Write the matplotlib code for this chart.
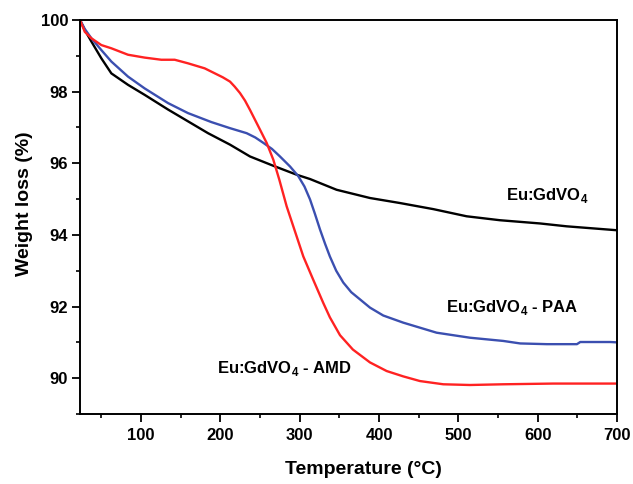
import matplotlib
matplotlib.use("Agg")
import matplotlib.pyplot as plt
from matplotlib.ticker import MultipleLocator

plt.rcParams['font.family'] = ['Liberation Sans', 'DejaVu Sans']
plt.rcParams['font.weight'] = 'bold'
plt.rcParams['mathtext.fontset'] = 'custom'
plt.rcParams['mathtext.rm'] = 'Liberation Sans:bold'
plt.rcParams['mathtext.bf'] = 'Liberation Sans:bold'

# TGA curves: temperature (°C) and remaining weight (%)
t_bare = [23, 29, 37.3, 49.9, 62.5, 83.5, 104.5, 134, 159.2, 184.4, 212.1, 237.3,
          266.7, 296.2, 313, 346.5, 388.6, 426.4, 468.4, 510.4, 552.4, 602.9,
          636.5, 700]
w_bare = [100, 99.72, 99.40, 98.93, 98.51, 98.19, 97.91, 97.5, 97.17, 96.84,
          96.52, 96.19, 95.93, 95.68, 95.56, 95.26, 95.03, 94.89, 94.72, 94.52,
          94.41, 94.32, 94.24, 94.13]

t_paa = [23, 29, 37.3, 49.9, 62.5, 83.5, 104.5, 134, 159.2, 188.6, 212.1, 233.1,
         244, 254.1, 265, 275.1, 287.8, 298.2, 306, 313, 319, 325.6, 332, 338,
         346, 354.9, 365, 376, 388.6, 405.3, 430.6, 472.6, 514.6, 556.6, 578,
         611.6, 649.5, 653.7, 691.5, 700]
w_paa = [100, 99.75, 99.49, 99.16, 98.84, 98.42, 98.09, 97.68, 97.4, 97.15,
         96.98, 96.84, 96.72, 96.57, 96.4, 96.19, 95.91, 95.64, 95.35, 94.99,
         94.6, 94.15, 93.75, 93.4, 93.0, 92.67, 92.4, 92.2, 91.97, 91.75, 91.55,
         91.27, 91.13, 91.04, 90.97, 90.95, 90.95, 91.01, 91.01, 91.0]

t_amd = [23, 29, 37.3, 49.9, 62.5, 83.5, 104.5, 125.5, 142.4, 159.2, 180.2,
         194.8, 203, 212.1, 218, 224.7, 231, 237.3, 249.9, 258.3, 266.7, 274.3,
         283.5, 294, 304.5, 317, 329.7, 338, 350.8, 367, 388.6, 409.6, 430.6,
         451.6, 481, 514.6, 556.6, 619.6, 700]
w_amd = [100, 99.67, 99.49, 99.3, 99.21, 99.03, 98.95, 98.89, 98.89, 98.79,
         98.65, 98.49, 98.4, 98.28, 98.14, 97.96, 97.75, 97.49, 96.94, 96.57,
         96.1, 95.54, 94.8, 94.1, 93.4, 92.75, 92.1, 91.7, 91.2, 90.8, 90.44,
         90.2, 90.05, 89.92, 89.83, 89.81, 89.83, 89.85, 89.85]

fig = plt.figure(figsize=(6.33, 4.84), dpi=100)
ax = fig.add_axes([0.1264, 0.1446, 0.9747 - 0.1264, 0.9587 - 0.1446])

ax.plot(t_bare, w_bare, color='black', lw=1.7)
ax.plot(t_paa, w_paa, color='#3b4fb0', lw=1.7)
ax.plot(t_amd, w_amd, color='#ff2222', lw=1.7)

ax.set_xlim(23, 700)
ax.set_ylim(89.0, 100)
ax.xaxis.set_major_locator(MultipleLocator(100))
ax.xaxis.set_minor_locator(MultipleLocator(50))
ax.yaxis.set_major_locator(MultipleLocator(2))
ax.yaxis.set_minor_locator(MultipleLocator(1))
ax.tick_params(which='major', direction='out', length=6, width=1.3,
               labelsize=12, top=False, right=False)
ax.tick_params(which='minor', direction='out', length=3, width=1.2,
               top=False, right=False)
ax.tick_params(axis='x', which='major', pad=4)
ax.tick_params(axis='y', which='major', pad=2.5)
for s in ax.spines.values():
    s.set_linewidth(1.4)
for lab in ax.get_xticklabels() + ax.get_yticklabels():
    lab.set_fontweight('bold')

ax.set_xlabel('Temperature (°C)', fontsize=14, fontweight='bold')
ax.set_ylabel('Weight loss (%)', fontsize=14, fontweight='bold')
ax.xaxis.set_label_coords(0.527, -0.12)
ax.yaxis.set_label_coords(-0.0875, 0.534)

ax.text(560, 94.97, r'Eu:GdVO$_4$', fontsize=12, fontweight='bold')
ax.text(484, 91.85, r'Eu:GdVO$_4$ - PAA', fontsize=12, fontweight='bold')
ax.text(196, 90.14, r'Eu:GdVO$_4$ - AMD', fontsize=12, fontweight='bold')

fig.savefig('out.png', dpi=100)
